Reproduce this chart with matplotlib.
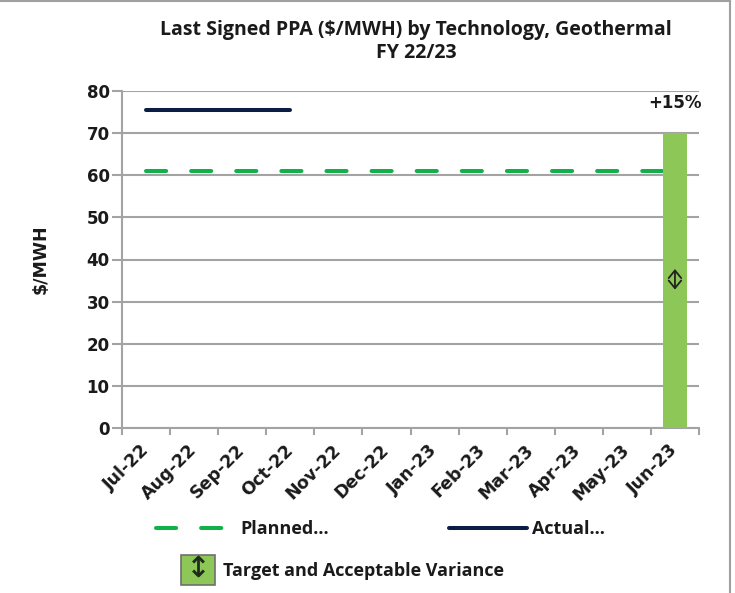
import matplotlib
matplotlib.use("Agg")
import matplotlib.pyplot as plt
from matplotlib.lines import Line2D
from matplotlib.patches import Patch
from matplotlib.legend_handler import HandlerTuple

# =========================
# DATA
# =========================
months = ["Jul-22", "Aug-22", "Sep-22", "Oct-22", "Nov-22", "Dec-22",
          "Jan-23", "Feb-23", "Mar-23", "Apr-23", "May-23", "Jun-23"]
planned = [61] * 12
actual = [75.5, 75.5, 75.5, 75.5]
target = 70
target_label = "+15%"

# =========================
# STYLE
# =========================
NAVY = "#0c1d45"
GREEN = "#12b04b"
BAR_GREEN = "#8dc757"
GRID = "#a3a3a3"
TXT = "#1a1a1a"
AX_FONT = "DejaVu Sans"
HEAD_FONT = "Open Sans"

fig = plt.figure(figsize=(7.35, 5.93), dpi=100)
ax = fig.add_axes([122 / 735, 1 - 428 / 593, 577 / 735, 337 / 593])

x = list(range(len(months)))

# target bar (last month only)
ax.bar([x[-1]], [target], width=0.5, color=BAR_GREEN, zorder=3)
ax.annotate(target_label, (x[-1], target), xytext=(0, 22), textcoords="offset points",
            ha="center", va="center", fontsize=12, fontweight="bold",
            family=AX_FONT, color=TXT)
ax.annotate("", xy=(x[-1], 38.4), xytext=(x[-1], 32.2),
            arrowprops=dict(arrowstyle="<->,head_length=0.55,head_width=0.45",
                            color="#222222", lw=1.3), zorder=4)

# planned and actual lines
ax.plot(x, planned, color=GREEN, lw=2.9, dashes=(5, 6.2),
        solid_capstyle="round", dash_capstyle="round", zorder=2)
ax.plot(x[:len(actual)], actual, color=NAVY, lw=2.9,
        solid_capstyle="round", zorder=2)

# axes
ax.set_xlim(-0.5, len(months) - 0.5)
ax.set_ylim(0, 80)
ax.set_yticks(range(0, 81, 10))
ax.grid(axis="y", color=GRID, lw=1.5, zorder=0)
ax.set_axisbelow(True)
for s in ["top", "right"]:
    ax.spines[s].set_visible(False)
for s in ["left", "bottom"]:
    ax.spines[s].set_color(GRID)
    ax.spines[s].set_linewidth(1.5)

ax.set_xticks([i - 0.5 for i in range(len(months) + 1)])
ax.set_xticklabels([])
ax.set_xticks(x, minor=True)
ax.set_xticklabels(months, minor=True)
ax.tick_params(axis="x", which="major", length=5, width=1.5, color=GRID)
ax.tick_params(axis="x", which="minor", length=0, pad=14)
ax.tick_params(axis="y", length=7, width=1.5, color=GRID, pad=2)
for lab in ax.get_xticklabels(minor=True):
    lab.set_rotation(45)
    lab.set_rotation_mode("anchor")
    lab.set_ha("right")
    lab.set_va("center")
    lab.set_fontsize(12.5)
    lab.set_fontweight("bold")
    lab.set_family(AX_FONT)
    lab.set_color(TXT)
for lab in ax.get_yticklabels():
    lab.set_fontsize(12)
    lab.set_fontweight("bold")
    lab.set_family(AX_FONT)
    lab.set_color(TXT)

ax.set_ylabel("$/MWH", fontsize=12.5, fontweight="bold", family=AX_FONT, color=TXT)
ax.yaxis.set_label_coords(-0.125, 0.5)

# title
fig.text(416 / 735, 1 - 30 / 593, "Last Signed PPA ($/MWH) by Technology, Geothermal",
         ha="center", va="center", fontsize=14, fontweight="bold", family=HEAD_FONT, color=TXT)
fig.text(416 / 735, 1 - 53 / 593, "FY 22/23",
         ha="center", va="center", fontsize=14, fontweight="bold", family=HEAD_FONT, color=TXT)

# legends
leg_font = dict(family=HEAD_FONT, weight="bold", size=13)


def add_leg(handle, label, xpix, ypix, hl, hh=0.7, pad=0.8, handler_map=None):
    lg = fig.legend([handle], [label], loc="center left",
                    bbox_to_anchor=(xpix / 735, 1 - ypix / 593),
                    frameon=False, prop=leg_font, handlelength=hl, handleheight=hh,
                    handletextpad=pad, borderpad=0, borderaxespad=0,
                    handler_map=handler_map)
    for t in lg.get_texts():
        t.set_color(TXT)
    return lg


h_plan = Line2D([], [], color=GREEN, lw=2.9, dashes=(5, 6.2), dash_capstyle="round")
h_act = Line2D([], [], color=NAVY, lw=2.9, solid_capstyle="round")
h_box = Patch(facecolor=BAR_GREEN, edgecolor="#6f6f6f", lw=1.2)
h_arr = Line2D([], [], ls="none", marker=r"$\updownarrow$", markersize=15,
               color="#1d2a1d", markeredgewidth=0.4)

add_leg(h_plan, "Planned...", 156, 529, hl=3.95, pad=0.75)
add_leg(h_act, "Actual...", 449, 529, hl=4.3, pad=0.28)
add_leg((h_box, h_arr), "Target and Acceptable Variance", 181, 570, hl=1.88, hh=2.1,
        pad=0.44, handler_map={tuple: HandlerTuple(ndivide=1, pad=0)})

# border
fig.add_artist(Line2D([0, 0.993], [0.998, 0.998], transform=fig.transFigure,
                      color="#a0a0a0", lw=1.5))
fig.add_artist(Line2D([0.993, 0.993], [0, 0.998], transform=fig.transFigure,
                      color="#a0a0a0", lw=1.5))

fig.savefig("out.png", dpi=100, facecolor="white")
